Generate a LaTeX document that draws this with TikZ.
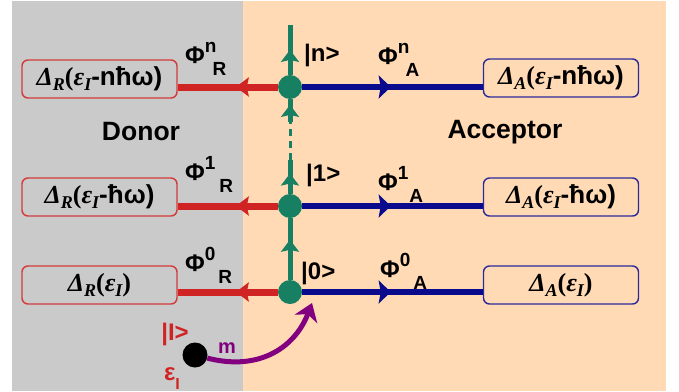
\documentclass[tikz,border=0pt]{standalone}
\usepackage{fontspec}
\setmainfont{Liberation Sans}
\newfontfamily\serfam{Liberation Serif}
\usetikzlibrary{arrows.meta,decorations.markings}

\definecolor{bggray}{HTML}{CACACA}
\definecolor{peach}{HTML}{FFDAB4}
\definecolor{grn}{HTML}{178062}
\definecolor{rd}{HTML}{D02424}
\definecolor{rdbox}{HTML}{D23A3A}
\definecolor{bl}{HTML}{0A0A8C}
\definecolor{blbox}{HTML}{2A2A9A}
\definecolor{prp}{HTML}{82007F}

\newcommand{\phil}[3]{{\fontsize{24}{24}\selectfont\bfseries Φ\raisebox{11pt}{\fontsize{19}{19}\selectfont #1}\hspace{#3}\raisebox{-12pt}{\fontsize{19}{19}\selectfont #2}}}
\newcommand{\dsub}[1]{{\serfam\bfseries\itshape Δ\raisebox{-5pt}{\fontsize{18}{18}\selectfont #1}}{\serfam\bfseries(}{\serfam\bfseries\itshape ε\raisebox{-5pt}{\fontsize{18}{18}\selectfont I}}}
\newcommand{\boxtxt}[2]{{\fontsize{26}{26}\selectfont\dsub{#1}\textbf{#2)}}}
\newcommand{\boxzero}[1]{{\fontsize{26}{26}\selectfont\dsub{#1}{\serfam\bfseries)}}}

\tikzset{
  redbox/.style={draw=rdbox, line width=1.4pt, rounded corners=6pt, minimum width=155pt, minimum height=38pt, inner sep=0pt},
  bluebox/.style={draw=blbox, line width=1.4pt, rounded corners=6pt, minimum width=155pt, minimum height=38pt, inner sep=0pt},
  dot/.style={circle, fill=grn, minimum size=24pt, inner sep=0pt},
  redline/.style={draw=rd, line width=7pt, postaction={decorate},
    decoration={markings, mark=at position 0.42 with {\arrow[rd]{Stealth[length=13pt,width=19pt,inset=2pt]}}}},
  blueline/.style={draw=bl, line width=6pt, postaction={decorate},
    decoration={markings, mark=at position 0.49 with {\arrow[bl]{Stealth[length=12pt,width=23pt,inset=2pt]}}}},
  greenarr/.style={draw=grn, line width=5pt, postaction={decorate},
    decoration={markings, mark=at position #1 with {\arrow[grn]{Stealth[length=12pt,width=18pt,inset=2pt]}}}},
  greendash/.style={draw=grn, line width=3pt, dash pattern=on 7pt off 5pt},
  lbl/.style={font=\fontsize{24}{24}\selectfont\bfseries, inner sep=0pt},
  side/.style={font=\fontsize{26.5}{26.5}\selectfont\bfseries, inner sep=0pt},
}

\begin{document}
\begin{tikzpicture}[x=1pt,y=-1pt]
\useasboundingbox (0,0) rectangle (679,391);
\fill[bggray] (12,1) rectangle (243,391);
\fill[peach] (243,1) rectangle (666,391);

% circles
\node[dot] (cn) at (290,87) {};
\node[dot] (c1) at (290,206) {};
\node[dot] (c0) at (290,292) {};
\coordinate (top) at (290,25);
\coordinate (d1) at (290,122);
\coordinate (d2) at (290,160);

% boxes
\node[redbox] (rn) at (99.5,79) {\boxtxt{R}{-nħω}};
\node[redbox] (r1) at (99.5,197) {\boxtxt{R}{-ħω}};
\node[redbox] (r0) at (99.5,285) {\boxzero{R}};
\node[bluebox] (bn) at (561,78) {\boxtxt{A}{-nħω}};
\node[bluebox] (b1) at (561,197) {\boxtxt{A}{-ħω}};
\node[bluebox] (b0) at (561,285) {\boxzero{A}};

% red and blue connectors
\draw[redline] (cn) -- (cn -| rn.east);
\draw[redline] (c1) -- (c1 -| r1.east);
\draw[redline] (c0) -- (c0 -| r0.east);
\draw[blueline] (cn) -- (cn -| bn.west);
\draw[blueline] (c1) -- (c1 -| b1.west);
\draw[blueline] (c0) -- (c0 -| b0.west);

% green vertical
\draw[greenarr=0.5] (cn) -- (top);
\draw[greenarr=0.75] (d1) -- (cn);
\draw[greendash] (d2) -- (d1);
\draw[greenarr=0.6] (c1) -- (d2);
\draw[greenarr=0.65] (c0) -- (c1);

% labels
\node[lbl, anchor=base west] (pnr) at (185,63) {\phil{n}{R}{-4pt}};
\node[lbl, anchor=base west] (p1r) at (185,180) {\phil{1}{R}{4pt}};
\node[lbl, anchor=base west] (p0r) at (185,271) {\phil{0}{R}{3pt}};
\node[lbl, anchor=base west] (pna) at (378,64) {\phil{n}{A}{-4pt}};
\node[lbl, anchor=base west] (p1a) at (378,190) {\phil{1}{A}{1pt}};
\node[lbl, anchor=base west] (p0a) at (380,277) {\phil{0}{A}{3pt}};
\node[lbl, anchor=base west] (kn) at (304,61) {|n>};
\node[lbl, anchor=base west] (k1) at (306,181) {|1>};
\node[lbl, anchor=base west] (k0) at (301,279) {|0>};

\node[side] (donor) at (141,132) {Donor};
\node[side] (acc) at (505,132) {Acceptor};

% initial state
\node[circle, fill=black, minimum size=25pt, inner sep=0pt] (ini) at (195,355) {};
\node[lbl, text=rd, anchor=base] (il) at (175,340) {|I>};
\node[lbl, text=rd, anchor=base] (el) at (172,380) {ε\raisebox{-9pt}{\fontsize{16}{16}\selectfont I}};
\node[lbl, text=prp, font=\fontsize{20}{20}\selectfont\bfseries, anchor=base] (ml) at (227,353) {m};
\coordinate (mend) at (312,303);
\draw[prp, line width=5pt, -{Stealth[length=17pt,width=24pt,inset=5pt]}] (ini) .. controls (262,372) and (296,345) .. (mend);
\end{tikzpicture}
\end{document}
